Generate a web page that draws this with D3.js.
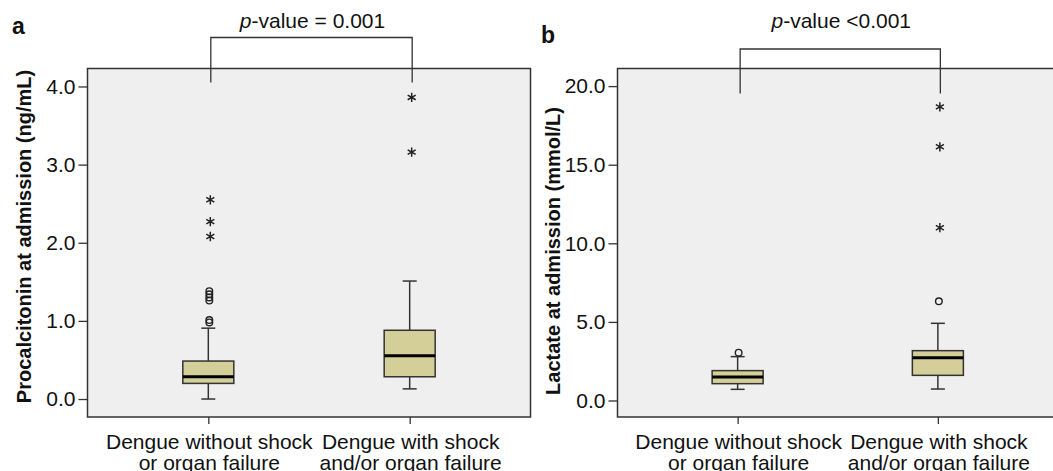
<!DOCTYPE html>
<html>
<head>
<meta charset="utf-8">
<script src="https://cdn.jsdelivr.net/npm/d3@7"></script>
<style>
  body { margin: 0; background: #fff; }
  svg { display: block; font-family: "Liberation Sans", Arial, sans-serif; }
  .tick text { font-size: 21px; fill: #111; }
</style>
</head>
<body>
<div id="chart"></div>
<script>
var groupLines = [["Dengue without shock", "or organ failure"], ["Dengue with shock", "and/or organ failure"]];
var groupKeys = ["noShock", "shock"];

// panel a: procalcitonin
var pctTicks = [0, 1, 2, 3, 4];
var pctLow = [0.0, 0.13];
var pctQ1 = [0.20, 0.285];
var pctMedian = [0.285, 0.553];
var pctQ3 = [0.486, 0.88];
var pctHigh = [0.907, 1.51];
var pctOutliers = [[1.38, 1.34, 1.30, 1.26, 1.01, 0.98], []];
var pctExtremes = [[2.55, 2.27, 2.08], [3.86, 3.16]];

// panel b: lactate
var lacTicks = [0, 5, 10, 15, 20];
var lacLow = [0.71, 0.73];
var lacQ1 = [1.07, 1.60];
var lacMedian = [1.49, 2.72];
var lacQ3 = [1.90, 3.17];
var lacHigh = [2.79, 4.91];
var lacOutliers = [[3.04], [6.31]];
var lacExtremes = [[], [10.99, 16.14, 18.68]];

var W = 1053, H = 471;
var svg = d3.select("#chart").append("svg").attr("width", W).attr("height", H);

var boxFill = "#d4cf98", lineCol = "#333";

function drawPanel(p){
	var g = svg.append("g");
	var x = d3.scalePoint().domain(groupKeys).range([p.left, p.right]).padding(0.6);
	var y = d3.scaleLinear().domain(p.domain).range([p.bottom, p.top]);

	g.append("rect")
		.attr("x", p.left).attr("y", p.top)
		.attr("width", p.right - p.left).attr("height", p.bottom - p.top)
		.attr("fill", "#efefef").attr("stroke", lineCol).attr("stroke-width", 1.5);

	var yAxis = g.append("g")
		.attr("transform", "translate(" + p.left + ",0)")
		.call(d3.axisLeft(y).tickValues(p.ticks).tickFormat(d3.format(".1f")).tickSize(9).tickPadding(3));
	yAxis.select(".domain").remove();
	yAxis.selectAll("line").attr("stroke", lineCol).attr("stroke-width", 1.3);

	var xAxis = g.append("g")
		.attr("transform", "translate(0," + p.bottom + ")")
		.call(d3.axisBottom(x).tickSize(7).tickFormat(""));
	xAxis.select(".domain").remove();
	xAxis.selectAll("line").attr("stroke", lineCol).attr("stroke-width", 1.3);

	groupKeys.forEach(function(k, i){
		var t = g.append("text")
			.attr("x", x(k) + 1).attr("y", p.bottom + 32)
			.attr("text-anchor", "middle")
			.style("font-size", "21px").attr("fill", "#111");
		groupLines[i].forEach(function(line, j){
			t.append("tspan").attr("x", x(k) + 1).attr("dy", j == 0 ? 0 : 21).text(line);
		});
	});

	var boxW = 51, capW = 14;
	groupKeys.forEach(function(k, i){
		var cx = x(k);
		var bg = g.append("g");
		bg.append("line").attr("x1", cx).attr("x2", cx)
			.attr("y1", y(p.high[i])).attr("y2", y(p.q3[i]))
			.attr("stroke", lineCol).attr("stroke-width", 1.5);
		bg.append("line").attr("x1", cx).attr("x2", cx)
			.attr("y1", y(p.q1[i])).attr("y2", y(p.low[i]))
			.attr("stroke", lineCol).attr("stroke-width", 1.5);
		[p.high[i], p.low[i]].forEach(function(v){
			bg.append("line").attr("x1", cx - capW/2).attr("x2", cx + capW/2)
				.attr("y1", y(v)).attr("y2", y(v))
				.attr("stroke", lineCol).attr("stroke-width", 1.5);
		});
		bg.append("rect")
			.attr("x", cx - boxW/2).attr("y", y(p.q3[i]))
			.attr("width", boxW).attr("height", y(p.q1[i]) - y(p.q3[i]))
			.attr("fill", boxFill).attr("stroke", lineCol).attr("stroke-width", 1.5);
		bg.append("line").attr("x1", cx - boxW/2).attr("x2", cx + boxW/2)
			.attr("y1", y(p.median[i])).attr("y2", y(p.median[i]))
			.attr("stroke", "#000").attr("stroke-width", 3);

		bg.selectAll(".outlier").data(p.outliers[i]).enter().append("circle")
			.attr("class", "outlier")
			.attr("cx", cx + 1).attr("cy", function(d){ return y(d); })
			.attr("r", 3.3).attr("fill", "none").attr("stroke", "#222").attr("stroke-width", 1.4);

		bg.selectAll(".extreme").data(p.extremes[i]).enter().append("path")
			.attr("class", "extreme")
			.attr("transform", function(d){ return "translate(" + (cx + 2) + "," + y(d) + ")"; })
			.attr("d", d3.symbol().type(d3.symbolAsterisk).size(60))
			.attr("fill", "none").attr("stroke", "#222").attr("stroke-width", 1.5);
	});

	// significance bracket
	var bx0 = x(groupKeys[0]) + 2.5, bx1 = x(groupKeys[1]) + 2.5;
	g.append("path")
		.attr("d", "M" + bx0 + "," + p.bracketBottom + "V" + p.bracketY + "H" + bx1 + "V" + p.bracketBottom)
		.attr("fill", "none").attr("stroke", lineCol).attr("stroke-width", 1.3);

	var pt = g.append("text")
		.attr("x", (bx0 + bx1)/2 + 1).attr("y", 28)
		.attr("text-anchor", "middle")
		.style("font-size", "21px").attr("fill", "#111");
	pt.append("tspan").style("font-style", "italic").text("p");
	pt.append("tspan").text(p.pText);

	g.append("text")
		.attr("x", p.letterX).attr("y", p.letterY)
		.style("font-size", "23px").style("font-weight", "bold").attr("fill", "#111")
		.text(p.letter);

	g.append("text")
		.attr("transform", "translate(" + p.titleX + "," + p.titleY + ") rotate(-90)")
		.attr("text-anchor", "middle")
		.style("font-size", "20px").style("font-weight", "bold").attr("fill", "#111")
		.text(p.title);
}

drawPanel({
	left: 87.5, right: 530.5, top: 68.5, bottom: 417,
	domain: [-0.23, 4.23], ticks: pctTicks,
	low: pctLow, q1: pctQ1, median: pctMedian, q3: pctQ3, high: pctHigh,
	outliers: pctOutliers, extremes: pctExtremes,
	bracketY: 37.5, bracketBottom: 82.5, pText: "-value = 0.001",
	letter: "a", letterX: 12, letterY: 34,
	title: "Procalcitonin at admission (ng/mL)", titleX: 31, titleY: 236.5
});

drawPanel({
	left: 617.5, right: 1058, top: 68.5, bottom: 417,
	domain: [-1.05, 21.12], ticks: lacTicks,
	low: lacLow, q1: lacQ1, median: lacMedian, q3: lacQ3, high: lacHigh,
	outliers: lacOutliers, extremes: lacExtremes,
	bracketY: 49, bracketBottom: 93.5, pText: "-value <0.001",
	letter: "b", letterX: 541, letterY: 43,
	title: "Lactate at admission (mmol/L)", titleX: 560, titleY: 251
});
</script>
</body>
</html>
